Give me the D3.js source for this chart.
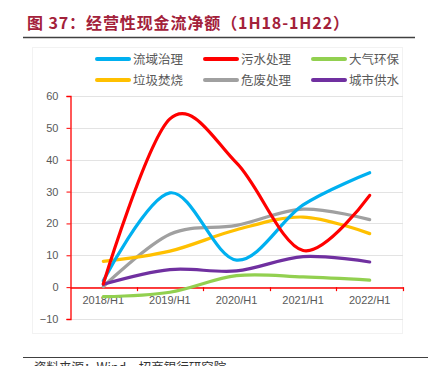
<!DOCTYPE html>
<html><head><meta charset="utf-8">
<script src="https://cdn.jsdelivr.net/npm/d3@7"></script>
<style>html,body{margin:0;padding:0;background:#fff;}svg{display:block;}</style>
</head><body>
<script>
const categories = ["2018/H1","2019/H1","2020/H1","2021/H1","2022/H1"];
const seriesNames = ["流域治理","污水处理","大气环保","垃圾焚烧","危废处理","城市供水"];
const valsLiuyu   = [2, 29.6, 8.5, 25.8, 35.9];
const valsWushui  = [1, 52.8, 39, 11.5, 28.8];
const valsDaqi    = [-3, -1.6, 3.6, 3.2, 2.2];
const valsLaji    = [8.1, 11.3, 18, 22, 16.8];
const valsWeifei  = [0.2, 16.6, 19.4, 24.5, 21.2];
const valsGongshui= [0.9, 5.5, 5.1, 9.6, 7.9];
const yTicks = [-10, 0, 10, 20, 30, 40, 50, 60];
const colors = ["#00B0F0","#FF0000","#92D050","#FFC000","#A0A0A0","#7030A0"];
const allVals = [valsLiuyu, valsWushui, valsDaqi, valsLaji, valsWeifei, valsGongshui];

const W = 428, H = 366;
const svg = d3.select("body").append("svg").attr("width", W).attr("height", H);

// title
svg.append("text").attr("x", 27).attr("y", 29)
  .attr("font-family", "'Noto Sans CJK SC', sans-serif").attr("font-weight", "bold")
  .attr("font-size", 16).attr("letter-spacing", 0.9).attr("fill", "#A3213A")
  .text("图 37：经营性现金流净额（1H18-1H22）");
svg.append("line").attr("x1", 23).attr("x2", 415).attr("y1", 37.5).attr("y2", 37.5)
  .attr("stroke", "#404040").attr("stroke-width", 1.5);

// faint chart frame
svg.append("rect").attr("x", 32.5).attr("y", 47.5).attr("width", 370).attr("height", 286)
  .attr("fill", "none").attr("stroke", "#F2F2F2");

const x = d3.scaleBand().domain(categories).range([70, 403]);
const y = d3.scaleLinear().domain([-10, 60]).range([319, 96]);

// gridlines
svg.append("g").selectAll("line").data(yTicks).join("line")
  .attr("x1", 70).attr("x2", 403)
  .attr("y1", d => Math.round(y(d)) + 0.5).attr("y2", d => Math.round(y(d)) + 0.5)
  .attr("stroke", "#E3E3E3").attr("stroke-width", 1.2);

// y axis
const yAxis = svg.append("g").attr("transform", "translate(70.5,0)")
  .call(d3.axisLeft(y).tickValues(yTicks).tickSize(4).tickPadding(8).tickFormat(d3.format("d")));
yAxis.select(".domain").attr("stroke", "#FF0000").attr("stroke-width", 1.3);
yAxis.selectAll(".tick line").attr("stroke", "#FF0000");
yAxis.selectAll(".tick text").attr("fill", "#595959").attr("font-size", 11)
  .attr("font-family", "'Liberation Sans', Arial, sans-serif");

// x axis at y=0
const xAxis = svg.append("g").attr("transform", `translate(0,${Math.round(y(0)) + 0.5})`)
  .call(d3.axisBottom(x).tickSize(0).tickPadding(9));
xAxis.select(".domain").attr("stroke", "#FF0000").attr("stroke-width", 1.3);
xAxis.selectAll(".tick text").attr("fill", "#595959").attr("font-size", 11)
  .attr("font-family", "'Liberation Sans', Arial, sans-serif");
// band boundary ticks
const bounds = categories.map(c => x(c)).concat([x(categories[categories.length-1]) + x.bandwidth()]);
svg.append("g").selectAll("line").data(bounds.slice(1)).join("line")
  .attr("x1", d => Math.round(d) + 0.5).attr("x2", d => Math.round(d) + 0.5)
  .attr("y1", y(0)).attr("y2", y(0) + 4)
  .attr("stroke", "#FF0000").attr("stroke-width", 1.2);

// lines
const line = d3.line()
  .x((d, i) => x(categories[i]) + x.bandwidth() / 2)
  .y(d => y(d))
  .curve(d3.curveCardinal.tension(0));
const drawOrder = [4, 3, 0, 2, 5, 1];
svg.append("g").selectAll("path").data(drawOrder).join("path")
  .attr("d", i => line(allVals[i]))
  .attr("fill", "none").attr("stroke", i => colors[i])
  .attr("stroke-width", 3.2).attr("stroke-linecap", "round").attr("stroke-linejoin", "round");

// legend
const legX = [97, 205, 313], legY = [59, 80];
const leg = svg.append("g").selectAll("g").data(seriesNames).join("g")
  .attr("transform", (d, i) => `translate(${legX[i % 3]},${legY[Math.floor(i / 3)]})`);
leg.append("line").attr("x1", 0).attr("x2", 32).attr("y1", 0).attr("y2", 0)
  .attr("stroke", (d, i) => colors[i]).attr("stroke-width", 4).attr("stroke-linecap", "round");
leg.append("text").attr("x", 36).attr("y", 4.5).attr("font-size", 12.5)
  .attr("font-family", "'Noto Sans CJK SC', sans-serif").attr("fill", "#595959").text(d => d);

// footer
svg.append("line").attr("x1", 23).attr("x2", 428).attr("y1", 357.5).attr("y2", 357.5)
  .attr("stroke", "#404040").attr("stroke-width", 1.2);
svg.append("text").attr("x", 34).attr("y", 372).attr("font-size", 12.5)
  .attr("font-family", "'Noto Sans CJK SC', sans-serif").attr("fill", "#333")
  .text("资料来源：Wind，招商银行研究院");
</script>
</body></html>
